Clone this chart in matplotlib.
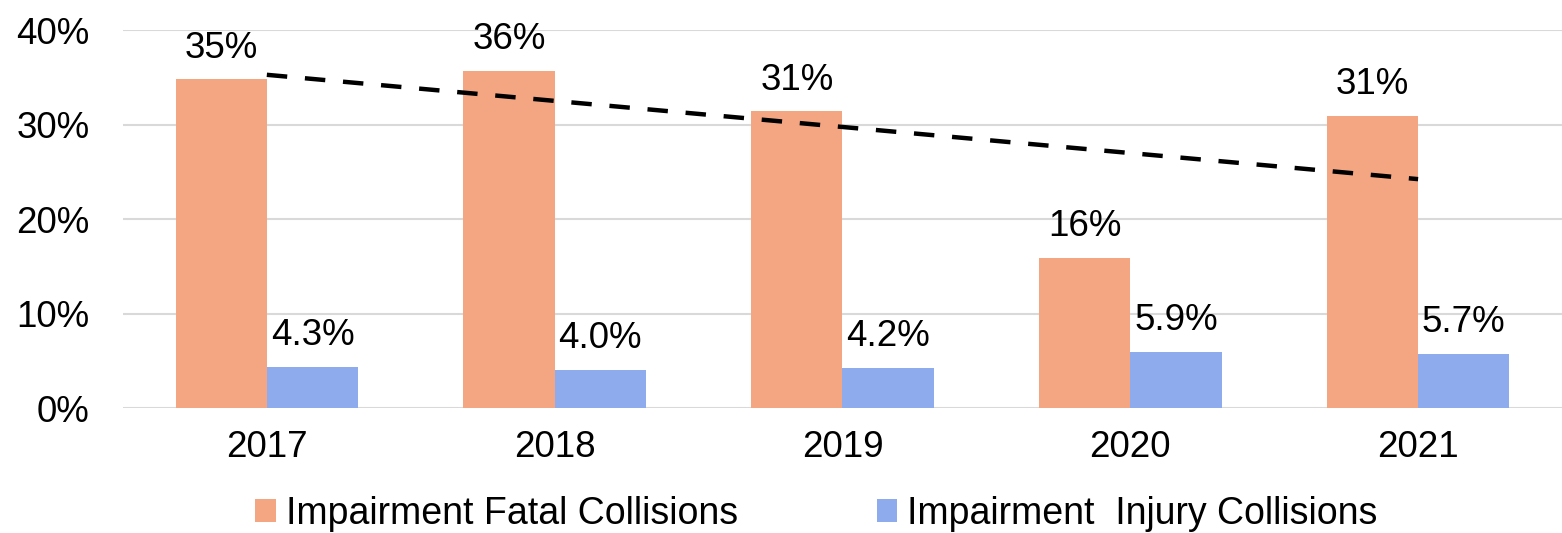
import numpy as np
import matplotlib
matplotlib.use('Agg')
import matplotlib.pyplot as plt

plt.rcParams['font.family'] = ['Liberation Sans', 'DejaVu Sans']

# 数据
years = ['2017', '2018', '2019', '2020', '2021']
fatal = [34.8, 35.7, 31.4, 15.9, 30.9]
injury = [4.3, 4.0, 4.2, 5.9, 5.7]
fatal_labels = ['{:.0f}%'.format(v) for v in fatal]
injury_labels = ['{:.1f}%'.format(v) for v in injury]
series_names = ['Impairment Fatal Collisions', 'Impairment  Injury Collisions']

fatal_color = '#F4A582'
injury_color = '#8EABEE'

fig = plt.figure(figsize=(15.62, 5.33), dpi=100)
ax = fig.add_axes([0.0787, 0.2345, 0.9213, 0.7092])

x = np.arange(len(years))
width = 0.317
ax.bar(x - width / 2, fatal, width=width, color=fatal_color, label=series_names[0], zorder=2)
ax.bar(x + width / 2, injury, width=width, color=injury_color, label=series_names[1], zorder=2)

# 线性趋势线
coef = np.polyfit(x, fatal, 1)
trend = np.polyval(coef, x)
ax.plot(x, trend, color='black', lw=3.2, dashes=(4.6, 4.0), zorder=3)

# 数据标签
for i in range(len(years)):
    ax.annotate(fatal_labels[i], (x[i] - width / 2, fatal[i]), xytext=(0, 15.5),
                textcoords='offset points', ha='center', va='baseline', fontsize=26.5)
    ax.annotate(injury_labels[i], (x[i] + width / 2, injury[i]), xytext=(0, 16),
                textcoords='offset points', ha='center', va='baseline', fontsize=26.5)

ax.set_xlim(-0.5, 4.5)
ax.set_ylim(0, 40)
ax.set_xticks(x)
ax.set_xticklabels(years)
ax.set_yticks([0, 10, 20, 30, 40])
ax.set_yticklabels(['{}%'.format(v) for v in [0, 10, 20, 30, 40]])
ax.tick_params(axis='x', length=0, pad=16, labelsize=26.5)
ax.tick_params(axis='y', length=0, pad=24, labelsize=26.5)
ax.grid(axis='y', color='#D9D9D9', lw=1.5, zorder=0)
ax.set_axisbelow(True)
for s in ax.spines.values():
    s.set_visible(False)

fig.legend(loc='center', bbox_to_anchor=(0.5227, 0.036), ncol=2, frameon=False,
           fontsize=27, handlelength=0.55, handleheight=0.55, handletextpad=0.27,
           columnspacing=3.7, borderpad=0, borderaxespad=0)

fig.savefig('out.png', dpi=100)
